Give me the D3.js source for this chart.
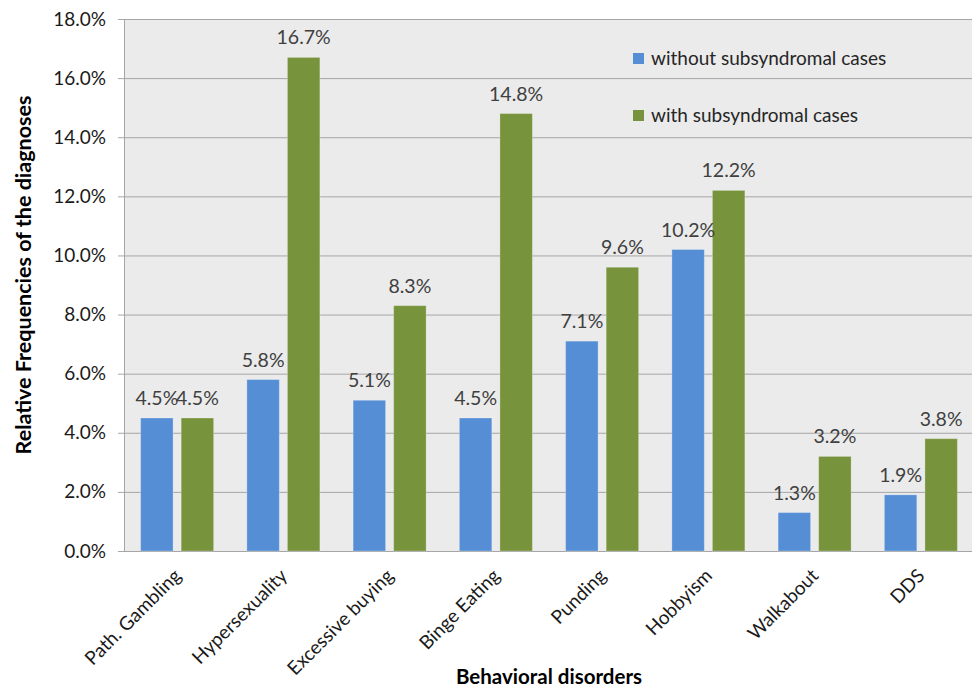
<!DOCTYPE html>
<html>
<head>
<meta charset="utf-8">
<script src="https://cdn.jsdelivr.net/npm/d3@7"></script>
<style>
  html, body { margin: 0; padding: 0; background: #ffffff; }
  svg { display: block; font-family: Lato, "Open Sans", sans-serif; }
</style>
</head>
<body>
<svg id="chart" width="972" height="688"></svg>
<script>
// Behavioral disorders and their relative diagnosis frequencies
const categories = ["Path. Gambling", "Hypersexuality", "Excessive buying", "Binge Eating",
                    "Punding", "Hobbyism", "Walkabout", "DDS"];
const withoutSubsyndromal = [0.045, 0.058, 0.051, 0.045, 0.071, 0.102, 0.013, 0.019];
const withSubsyndromal    = [0.045, 0.167, 0.083, 0.148, 0.096, 0.122, 0.032, 0.038];
const seriesNames = ["without subsyndromal cases", "with subsyndromal cases"];
const seriesColors = ["#558ed5", "#77933c"];
const yTicks = [0, 0.02, 0.04, 0.06, 0.08, 0.10, 0.12, 0.14, 0.16, 0.18];

const svg = d3.select("#chart");
const plot = { left: 124, top: 19, right: 974, bottom: 551 };

const x0 = d3.scaleBand()
  .domain(categories)
  .range([plot.left, plot.right])
  .paddingInner(0.313)
  .paddingOuter(0.1565);

const x1 = d3.scaleBand()
  .domain(seriesNames)
  .range([0, x0.bandwidth()])
  .paddingInner(0.2);

const y = d3.scaleLinear().domain([0, 0.18]).range([plot.bottom, plot.top]);

// plot background
svg.append("rect")
  .attr("x", plot.left).attr("y", plot.top)
  .attr("width", plot.right - plot.left).attr("height", plot.bottom - plot.top)
  .attr("fill", "#ebebeb");

// y axis with gridlines
const yAxis = svg.append("g")
  .attr("transform", `translate(${plot.left},0)`)
  .call(d3.axisLeft(y).tickValues(yTicks).tickFormat(d3.format(".1%")).tickSize(6).tickPadding(12));
yAxis.select(".domain").attr("stroke", "#a6a6a6");
yAxis.selectAll(".tick line").attr("stroke", "#a6a6a6");
yAxis.selectAll(".tick text")
  .attr("font-size", 19).attr("fill", "#1a1a1a").attr("font-family", "Lato, sans-serif");
yAxis.selectAll(".tick").append("line")
  .attr("x1", 0).attr("x2", plot.right - plot.left)
  .attr("stroke", "#a6a6a6").attr("stroke-width", 1);

// x axis
const xAxis = svg.append("g")
  .attr("transform", `translate(0,${plot.bottom})`)
  .call(d3.axisBottom(x0).tickSize(0).tickFormat(""));
xAxis.select(".domain").attr("stroke", "#a6a6a6");

svg.append("g").selectAll("text")
  .data(categories)
  .join("text")
  .attr("transform", d => `translate(${x0(d) + x0.bandwidth() / 2 + 5},577) rotate(-45)`)
  .attr("text-anchor", "end")
  .attr("font-size", 19)
  .attr("fill", "#1a1a1a")
  .text(d => d);

// bars
const rows = categories.map((c, i) => ({
  category: c,
  values: [withoutSubsyndromal[i], withSubsyndromal[i]]
}));

const groups = svg.append("g").selectAll("g")
  .data(rows)
  .join("g")
  .attr("transform", d => `translate(${x0(d.category)},0)`);

groups.selectAll("rect")
  .data(d => d.values.map((v, j) => ({ series: seriesNames[j], value: v, color: seriesColors[j] })))
  .join("rect")
  .attr("x", d => x1(d.series))
  .attr("y", d => y(d.value))
  .attr("width", x1.bandwidth())
  .attr("height", d => plot.bottom - y(d.value))
  .attr("fill", d => d.color)
  .attr("stroke", "#ffffff")
  .attr("stroke-opacity", 0.25)
  .attr("stroke-width", 1);

groups.selectAll("text")
  .data(d => d.values.map((v, j) => ({ series: seriesNames[j], value: v })))
  .join("text")
  .attr("x", d => x1(d.series) + x1.bandwidth() / 2)
  .attr("y", d => y(d.value) - 13)
  .attr("text-anchor", "middle")
  .attr("font-size", 19.5)
  .attr("fill", "#404040")
  .text(d => d3.format(".1%")(d.value));

// legend
const legend = svg.append("g").selectAll("g")
  .data(seriesNames)
  .join("g")
  .attr("transform", (d, i) => `translate(633,${53 + i * 57})`);
legend.append("rect")
  .attr("width", 11).attr("height", 11)
  .attr("fill", (d, i) => seriesColors[i]);
legend.append("text")
  .attr("x", 18).attr("y", 12)
  .attr("font-size", 19)
  .attr("fill", "#262626")
  .text(d => d);

// axis titles
svg.append("text")
  .attr("transform", `translate(31,275) rotate(-90)`)
  .attr("text-anchor", "middle")
  .attr("font-size", 21.5)
  .attr("font-weight", "bold")
  .attr("fill", "#000000")
  .text("Relative Frequencies of the diagnoses");

svg.append("text")
  .attr("x", 549).attr("y", 684)
  .attr("text-anchor", "middle")
  .attr("font-size", 20.5)
  .attr("font-weight", "bold")
  .attr("fill", "#000000")
  .text("Behavioral disorders");
</script>
</body>
</html>
